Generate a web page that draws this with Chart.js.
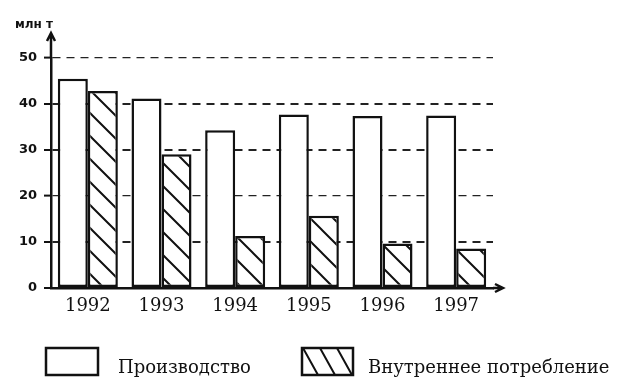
<!DOCTYPE html>
<html>
<head>
<meta charset="utf-8">
<script src="https://cdn.jsdelivr.net/npm/chart.js"></script>
<style>
  body { margin: 0; background: #fff; }
  #wrap { width: 624px; height: 391px; }
</style>
</head>
<body>
<div id="wrap"><canvas id="myChart" width="624" height="391"></canvas></div>
<script>
var years = ['1992', '1993', '1994', '1995', '1996', '1997'];
var production = [45.5, 41.2, 34.3, 37.7, 37.4, 37.5];
var consumption = [42.8, 29.1, 11.3, 15.7, 9.7, 8.6];
var yTicks = [0, 10, 20, 30, 40, 50];
var seriesNames = ['Производство', 'Внутреннее потребление'];
var yUnit = 'млн т';

var ink = '#111';

    //diagonal hatch for the second series
function makeHatch() {
    var s = 23;
    var c = document.createElement('canvas');
    c.width = s;
    c.height = s;
    var g = c.getContext('2d');
    g.fillStyle = '#fff';
    g.fillRect(0, 0, s, s);
    g.strokeStyle = ink;
    g.lineWidth = 2;
    g.beginPath();
    g.moveTo(-2, -2); g.lineTo(s + 2, s + 2);
    g.moveTo(-2, s - 2); g.lineTo(2, s + 2);
    g.moveTo(s - 2, -2); g.lineTo(s + 2, 2);
    g.stroke();
    return g.createPattern(c, 'repeat');
}

    //axis arrows, unit label and the legend under the chart
var extras = {
    id: 'extras',
    afterDraw: function(chart) {
        var ctx = chart.ctx, a = chart.chartArea;
        ctx.save();
        ctx.strokeStyle = ink;
        ctx.lineWidth = 2.5;
        ctx.beginPath();
        ctx.moveTo(a.left, a.top);
        ctx.lineTo(a.left, 33);
        ctx.moveTo(a.left - 4, 41);
        ctx.lineTo(a.left, 33);
        ctx.lineTo(a.left + 4, 41);
        ctx.moveTo(a.right, a.bottom);
        ctx.lineTo(503, a.bottom);
        ctx.moveTo(495, a.bottom - 4);
        ctx.lineTo(503, a.bottom);
        ctx.lineTo(495, a.bottom + 4);
        ctx.stroke();

        ctx.fillStyle = ink;
        ctx.font = 'bold 12px "DejaVu Sans"';
        ctx.fillText(yUnit, 15, 28);

        // legend boxes
        ctx.fillStyle = '#fff';
        ctx.fillRect(46, 348, 52, 27);
        ctx.strokeRect(46, 348, 52, 27);
        ctx.fillRect(302, 348, 51, 27);
        ctx.save();
        ctx.beginPath();
        ctx.rect(302, 348, 51, 27);
        ctx.clip();
        ctx.lineWidth = 2;
        ctx.beginPath();
        for (var k = 0; k < 3; k++) {
            ctx.moveTo(303 + 17 * k, 348);
            ctx.lineTo(318 + 17 * k, 375);
        }
        ctx.stroke();
        ctx.restore();
        ctx.strokeRect(302, 348, 51, 27);

        ctx.fillStyle = ink;
        ctx.font = '18px "DejaVu Serif"';
        ctx.fillText(seriesNames[0], 118, 373);
        ctx.fillText(seriesNames[1], 368, 373);
        ctx.restore();
    }
};

var ctx = document.getElementById('myChart').getContext('2d');
var chart = new Chart(ctx, {
    type: 'bar',
    data: {
        labels: years,
        datasets: [{
            label: seriesNames[0],
            data: production,
            backgroundColor: '#fff',
            borderColor: ink,
            borderWidth: 2.5,
            borderSkipped: false,
            categoryPercentage: 0.815,
            barPercentage: 1
        }, {
            label: seriesNames[1],
            data: consumption,
            backgroundColor: makeHatch(),
            borderColor: ink,
            borderWidth: 2.5,
            borderSkipped: false,
            categoryPercentage: 0.815,
            barPercentage: 1
        }]
    },
    options: {
        responsive: false,
        animation: false,
        devicePixelRatio: 1,
        layout: { padding: { top: 58, right: 131, left: 0, bottom: 0 } },
        plugins: {
            legend: { display: false },
            tooltip: { enabled: false }
        },
        scales: {
            x: {
                grid: { display: false },
                border: { display: true, color: ink, width: 2.5 },
                ticks: {
                    color: ink,
                    padding: 0,
                    font: { family: 'DejaVu Serif', size: 18 }
                },
                afterFit: function(scale) { scale.height = 103; }
            },
            y: {
                min: 0,
                max: 50,
                afterBuildTicks: function(scale) {
                    scale.ticks = yTicks.map(function(v) { return { value: v }; });
                },
                grid: {
                    color: '#222',
                    lineWidth: function(c) { return (c.tick && (c.tick.value == 50 || c.tick.value == 20)) ? 1.2 : 2; },
                    tickLength: 7,
                    tickColor: ink,
                    tickWidth: 2
                },
                border: { display: true, color: ink, width: 2.5, dash: [8, 6] },
                ticks: {
                    color: ink,
                    padding: 7,
                    font: { family: 'DejaVu Sans', size: 13, weight: 'bold' }
                },
                afterFit: function(scale) { scale.width = 51; }
            }
        }
    },
    plugins: [extras]
});
</script>
</body>
</html>
